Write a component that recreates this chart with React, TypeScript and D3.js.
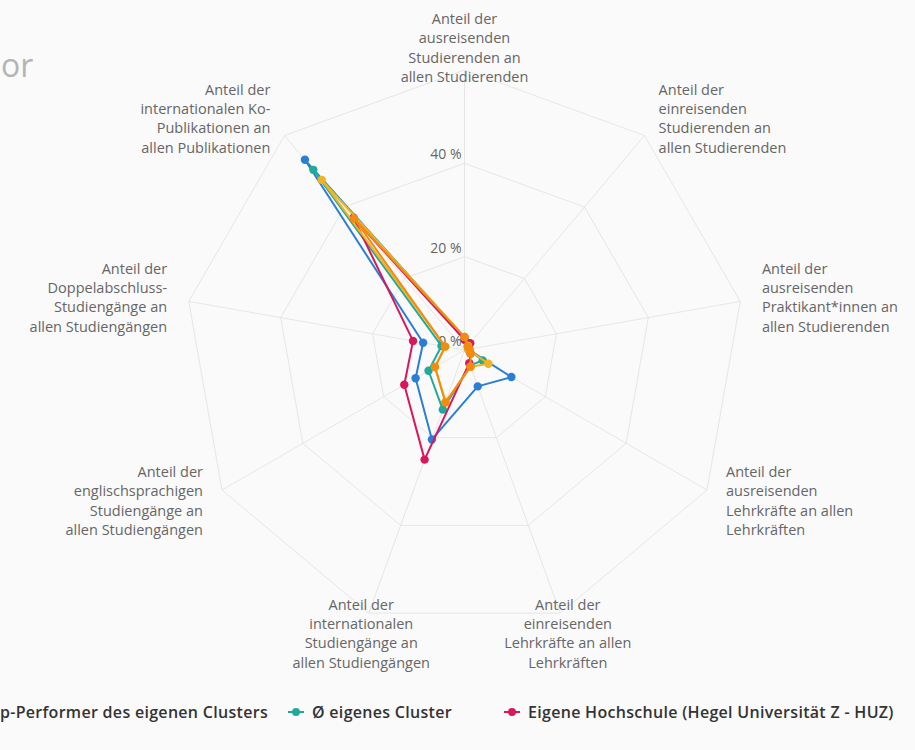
import React from "react";
import * as d3 from "d3";

const categories: string[] = [
  "Anteil der\nausreisenden\nStudierenden an\nallen Studierenden",
  "Anteil der\neinreisenden\nStudierenden an\nallen Studierenden",
  "Anteil der\nausreisenden\nPraktikant*innen an\nallen Studierenden",
  "Anteil der\nausreisenden\nLehrkräfte an allen\nLehrkräften",
  "Anteil der\neinreisenden\nLehrkräfte an allen\nLehrkräften",
  "Anteil der\ninternationalen\nStudiengänge an\nallen Studiengängen",
  "Anteil der\nenglischsprachigen\nStudiengänge an\nallen Studiengängen",
  "Anteil der\nDoppelabschluss-\nStudiengänge an\nallen Studiengängen",
  "Anteil der\ninternationalen Ko-\nPublikationen an\nallen Publikationen",
];

const yTicks: number[] = [0, 20, 40];
const yMax = 60;

const topPerformer: number[] = [2.6, 1.5, 0.8, 11.6, 8.3, 20.4, 12.1, 9.0, 53.2];
const clusterAvg: number[] = [2.7, 1.4, 0.9, 4.5, 3.5, 13.6, 8.9, 5.0, 50.4];
const ownUniversity: number[] = [2.2, 1.9, 1.0, 1.5, 3.0, 25.0, 14.9, 11.2, 37.0];
const comparisonA: number[] = [2.8, 1.2, 0.8, 5.9, 3.8, 11.8, 7.3, 4.2, 47.6];
const comparisonB: number[] = [2.8, 1.0, 1.1, 1.5, 3.8, 12.0, 7.3, 4.2, 36.8];

const seriesValues: number[][] = [topPerformer, clusterAvg, ownUniversity, comparisonA, comparisonB];
const seriesColors: string[] = ["#2a7fd4", "#23a99a", "#d6185c", "#f1b324", "#f28c0f"];

const legendNames: string[] = [
  "Top-Performer des eigenen Clusters",
  "Ø eigenes Cluster",
  "Eigene Hochschule (Hegel Universität Z - HUZ)",
];

const W = 915;
const H = 750;
const cx = 464.5;
const cy = 350;
const R = 280;
const FONT = "'Open Sans', 'Noto Sans', sans-serif";

export default function App() {
  const n = categories.length;
  const r = d3.scaleLinear().domain([0, yMax]).range([0, R]);
  const angle = (i: number) => (i * 2 * Math.PI) / n;
  const ringValues = [...yTicks.filter((t) => t > 0), yMax];

  const ringPath = (v: number) =>
    d3
      .lineRadial<number>()
      .angle((_, i) => angle(i))
      .radius(() => r(v))
      .curve(d3.curveLinearClosed)(d3.range(n)) as string;

  const seriesLine = d3
    .lineRadial<number>()
    .angle((_, i) => angle(i))
    .radius((d) => r(d))
    .curve(d3.curveLinearClosed);

  const lineH = 19.3;

  return (
    <svg
      width={W}
      height={H}
      style={{ position: "absolute", left: 0, top: 0, background: "#fafafa" }}
      fontFamily={FONT}
    >
      <rect x={0} y={0} width={W} height={H} fill="#fafafa" />
      <text x={1} y={77} fontSize={32} fill="#b4b4b4">or</text>

      <g transform={`translate(${cx},${cy})`}>
        {ringValues.map((v) => (
          <path key={v} d={ringPath(v)} fill="none" stroke="#e6e6e6" strokeWidth={1} />
        ))}
        {d3.range(n).map((i) => {
          const [x, y] = d3.pointRadial(angle(i), R);
          return <line key={i} x1={0} y1={0} x2={x} y2={y} stroke="#e6e6e6" strokeWidth={1} />;
        })}

        {yTicks.map((t) => (
          <text
            key={t}
            x={-3}
            y={-r(t) - 4}
            textAnchor="end"
            fontSize={14}
            fill="#666"
          >
            {`${t} %`}
          </text>
        ))}

        {categories.map((c, i) => {
          const a = angle(i);
          const [x, y] = d3.pointRadial(a, R + 22);
          const s = Math.sin(a);
          const anchor = Math.abs(s) < 0.5 ? "middle" : s > 0 ? "start" : "end";
          const lines = c.split("\n");
          const y0 = y - ((lines.length - 1) * lineH) / 2 + 5;
          return (
            <text key={i} textAnchor={anchor} fontSize={14.5} fill="#666">
              {lines.map((l, j) => (
                <tspan key={j} x={x} y={y0 + j * lineH}>
                  {l}
                </tspan>
              ))}
            </text>
          );
        })}

        {seriesValues.map((vals, si) => (
          <g key={si}>
            <path
              d={seriesLine(vals) as string}
              fill="none"
              stroke={seriesColors[si]}
              strokeWidth={2}
              strokeLinejoin="round"
            />
            {vals.map((v, i) => {
              const [x, y] = d3.pointRadial(angle(i), r(v));
              return <circle key={i} cx={x} cy={y} r={4.2} fill={seriesColors[si]} />;
            })}
          </g>
        ))}
      </g>

      <g fontSize={16} fontWeight={600} fill="#333" letterSpacing={0.3}>
        <text x={268} y={718} textAnchor="end">{legendNames[0]}</text>
        {[1, 2].map((k) => {
          const tx = k === 1 ? 312 : 528;
          return (
            <g key={k}>
              <line x1={tx - 24} x2={tx - 8} y1={712} y2={712} stroke={seriesColors[k]} strokeWidth={2} />
              <circle cx={tx - 16} cy={712} r={4} fill={seriesColors[k]} />
              <text x={tx} y={718}>{legendNames[k]}</text>
            </g>
          );
        })}
      </g>
    </svg>
  );
}
